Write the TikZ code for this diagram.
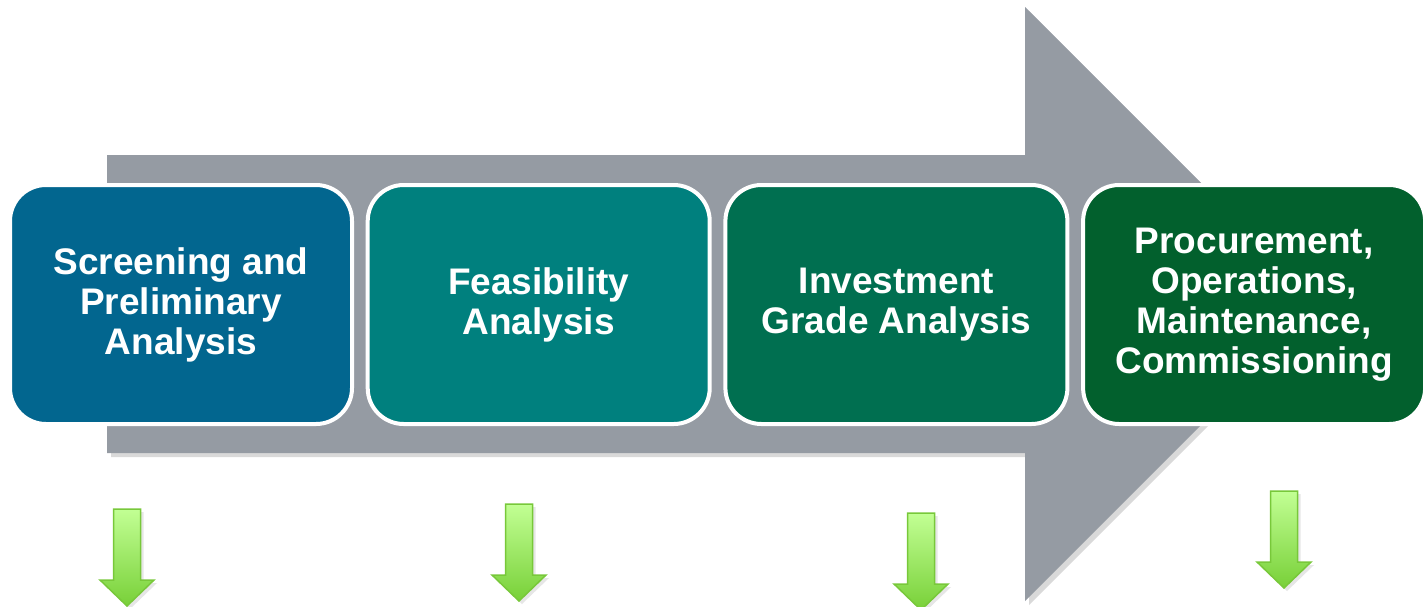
\documentclass[tikz,border=0pt]{standalone}
\usepackage{fontspec}
\setmainfont{Liberation Sans}
\usetikzlibrary{positioning,shadows}

\definecolor{flowgray}{HTML}{959BA3}
\definecolor{stageblue}{HTML}{02668F}
\definecolor{stageteal}{HTML}{00807E}
\definecolor{stagejade}{HTML}{006F50}
\definecolor{stagegreen}{HTML}{02602D}
\definecolor{downedge}{HTML}{78C83A}
\definecolor{downtop}{HTML}{C2FF94}
\definecolor{downbot}{HTML}{78D038}

\tikzset{
  stage/.style={rectangle, rounded corners=36pt, draw=white, line width=4pt,
    minimum width=342pt, minimum height=239pt, text=white, align=center,
    font=\bfseries\fontsize{37}{40}\selectfont},
  flow/.style={fill=flowgray, drop shadow={shadow xshift=4pt, shadow yshift=-4pt, opacity=.3}},
  down/.style={draw=downedge, line width=1.5pt, top color=downtop, bottom color=downbot,
    drop shadow={shadow xshift=3pt, shadow yshift=-3pt, opacity=.2}}
}

\begin{document}
\begin{tikzpicture}[x=1pt, y=-1pt, node distance=11.7pt]
    \useasboundingbox (0,0) rectangle (1426,606);
    % big gray process arrow
    \path[flow] (107,155) -- (1025,155) -- (1025,7) -- (1322,304)
        -- (1025,601) -- (1025,453) -- (107,453) -- cycle;
    % stages
    \node[stage, fill=stageblue] (screening) at (181,304.5) {Screening and\\Preliminary\\Analysis};
    \node[stage, fill=stageteal, right=of screening] (feasibility) {Feasibility\\Analysis};
    \node[stage, fill=stagejade, right=of feasibility] (investment) {Investment\\Grade Analysis};
    \node[stage, fill=stagegreen, right=of investment] (procurement) {Procurement,\\Operations,\\Maintenance,\\Commissioning};
    % green down arrows
    \foreach \x/\y in {127/509, 519/504, 921/513, 1284/491}
        \path[down] (\x-13.5,\y) -- (\x+13.5,\y) -- (\x+13.5,\y+71) -- (\x+27,\y+71)
            -- (\x,\y+97) -- (\x-27,\y+71) -- (\x-13.5,\y+71) -- cycle;
\end{tikzpicture}
\end{document}
